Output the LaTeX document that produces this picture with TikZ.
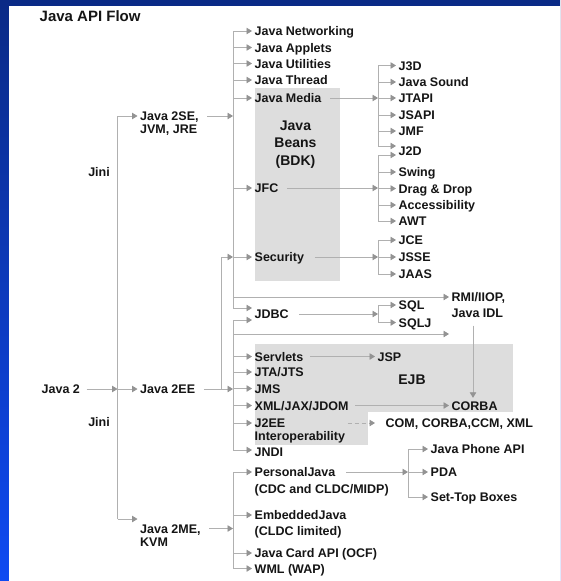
\documentclass[tikz,border=0pt]{standalone}
\usepackage{fontspec}
\setmainfont{Liberation Sans}
\usetikzlibrary{arrows.meta}
\definecolor{navy}{HTML}{0A2A86}
\definecolor{brightblue}{HTML}{0F4AF2}
\definecolor{linegray}{HTML}{B0B0B0}
\definecolor{tipgray}{HTML}{939393}
\definecolor{boxgray}{HTML}{DDDDDD}
\definecolor{ink}{HTML}{151515}
\begin{document}
\begin{tikzpicture}[x=1pt,y=-1pt,
  lbl/.style={anchor=west, inner xsep=2.5pt, inner ysep=0pt, text height=9pt, text depth=0pt,
    font=\bfseries\fontsize{12.5}{14}\selectfont, text=ink},
  big/.style={anchor=center, inner sep=0pt, text height=10pt, text depth=0pt,
    font=\bfseries\fontsize{14}{17}\selectfont, text=ink},
  conn/.style={draw=linegray, line width=0.8pt, -{Triangle[length=5.5pt,width=6.5pt,color=tipgray]}},
  plain/.style={draw=linegray, line width=0.8pt},
  gbox/.style={fill=boxgray, draw=none}]
\useasboundingbox (0,0) rectangle (560,581);
% background
\shade[top color=navy, bottom color=brightblue] (0,0) rectangle (560,581);
\fill[white] (9,6) rectangle (560,581);
% grey panels
\fill[gbox] (255,88) rectangle (340,281);
\fill[gbox] (255,344) rectangle (513,412);
\fill[gbox] (255,411) rectangle (368,445);

% title
\node[lbl, font=\bfseries\fontsize{15}{17}\selectfont, text height=10.7pt] (title) at (37,16) {Java API Flow};

% root level
\node[lbl] (j2) at (39,389) {Java 2};
\node[lbl, anchor=east] (jiniA) at (112.5,172) {Jini};
\node[lbl, anchor=east] (jiniB) at (112.5,422) {Jini};
\node[lbl] (j2se) at (137.5,116) {Java 2SE,};
\node[lbl] (j2seb) at (137.5,129) {JVM, JRE};
\node[lbl] (j2ee) at (137.5,389) {Java 2EE};
\node[lbl] (j2me) at (137.5,528.5) {Java 2ME,};
\node[lbl] (j2meb) at (137.5,542) {KVM};

\coordinate (trunkTop) at (117.5,116);
\coordinate (trunkMid) at (117.5,389);
\coordinate (trunkBot) at (117.5,519);
\draw[conn, shorten <=4pt] (j2.east) -- (trunkMid);
\draw[plain] (trunkTop) -- (trunkBot);
\draw[conn] (trunkTop) -- (j2se.west);
\draw[conn] (trunkMid) -- (j2ee.west);
\draw[conn] (trunkBot) -- (trunkBot -| j2me.west);

% J2SE column
\node[lbl] (net) at (252,31) {Java Networking};
\node[lbl] (app) at (252,47.5) {Java Applets};
\node[lbl] (util) at (252,63.5) {Java Utilities};
\node[lbl] (thr) at (252,80) {Java Thread};
\node[lbl] (media) at (252,98) {Java Media};
\node[lbl] (jfc) at (252,188) {JFC};
\node[lbl] (sec) at (252,257) {Security};
\node[lbl] (jdbc) at (252,314) {JDBC};
\node[lbl] (rmi) at (449,297) {RMI/IIOP,};
\node[lbl] (rmib) at (449,313) {Java IDL};

\coordinate (cA) at (233,116);
\coordinate (cAtop) at (233,31);
\coordinate (cAbot) at (233,308);
\draw[conn, shorten <=6pt] (j2se.east) -- (cA);
\draw[plain] (cAtop) -- (cAbot);
\foreach \n in {net,app,util,thr,media,jfc,sec,rmi}{
  \draw[conn] (cA |- \n.west) -- (\n.west);
}
\draw[conn] (cAbot) -- (cAbot -| jdbc.west);

% Java Beans
\node[big] (beansA) at (295.5,125) {Java};
\node[big] (beansB) at (295.5,142.5) {Beans};
\node[big] (beansC) at (295.5,160) {(BDK)};

% Media column
\node[lbl] (j3d) at (396,65.5) {J3D};
\node[lbl] (jsound) at (396,82) {Java Sound};
\node[lbl] (jtapi) at (396,98) {JTAPI};
\node[lbl] (jsapi) at (396,115) {JSAPI};
\node[lbl] (jmf) at (396,131) {JMF};
\node[lbl] (j2d) at (396,151) {J2D};
\coordinate (mTop) at (378,65.5);
\coordinate (mBot) at (378,146);
\draw[conn, shorten <=6pt] (media.east) -- (mTop |- media.east);
\draw[plain] (mTop) -- (mBot);
\foreach \n in {j3d,jsound,jtapi,jsapi,jmf}{
  \draw[conn] (mTop |- \n.west) -- (\n.west);
}
\draw[conn] (mBot) -- (mBot -| j2d.west);

% JFC column
\node[lbl] (swing) at (396,172) {Swing};
\node[lbl] (dnd) at (396,188.5) {Drag \& Drop};
\node[lbl] (acc) at (396,205) {Accessibility};
\node[lbl] (awt) at (396,221) {AWT};
\coordinate (fTop) at (378,155);
\coordinate (fBot) at (378,221);
\draw[conn, shorten <=6pt] (jfc.east) -- (fTop |- jfc.east);
\draw[plain] (fTop) -- (fBot);
\draw[conn] (fTop) -- (fTop -| j2d.west);
\foreach \n in {swing,dnd,acc,awt}{
  \draw[conn] (fTop |- \n.west) -- (\n.west);
}

% Security column
\node[lbl] (jce) at (396,240) {JCE};
\node[lbl] (jsse) at (396,257) {JSSE};
\node[lbl] (jaas) at (396,274) {JAAS};
\coordinate (sTop) at (378,240);
\coordinate (sBot) at (378,274);
\draw[conn, shorten <=8pt] (sec.east) -- (sTop |- sec.east);
\draw[plain] (sTop) -- (sBot);
\foreach \n in {jce,jsse,jaas}{
  \draw[conn] (sTop |- \n.west) -- (\n.west);
}

% JDBC column
\node[lbl] (sql) at (396,305) {SQL};
\node[lbl] (sqlj) at (396,322.5) {SQLJ};
\coordinate (dTop) at (378,305);
\coordinate (dBot) at (378,322.5);
\draw[conn, shorten <=8pt] (jdbc.east) -- (dTop |- jdbc.east);
\draw[plain] (dTop) -- (dBot);
\foreach \n in {sql,sqlj}{
  \draw[conn] (dTop |- \n.west) -- (\n.west);
}

% J2EE column
\node[lbl] (servlets) at (252,356.5) {Servlets};
\node[lbl] (jta) at (252,372) {JTA/JTS};
\node[lbl] (jms) at (252,388.5) {JMS};
\node[lbl] (xml) at (252,405.5) {XML/JAX/JDOM};
\node[lbl] (j2eei) at (252,423) {J2EE};
\node[lbl] (j2eeib) at (252,436) {Interoperability};
\node[lbl] (jndi) at (252,452) {JNDI};
\node[lbl] (jsp) at (375,356.5) {JSP};
\node[lbl] (corba) at (449,405.5) {CORBA};
\node[lbl] (com) at (383,423) {COM, CORBA,CCM, XML};
\node[big] (ejb) at (412,379) {EJB};

\coordinate (cB) at (233,389);
\coordinate (cBtop) at (233,320);
\coordinate (cBbot) at (233,450);
\coordinate (split) at (221,389);
\coordinate (rmiLow) at (449,334);
\coordinate (rmiDrop) at (473,325.5);
\draw[conn, shorten <=6pt] (j2ee.east) -- (cB);
\draw[conn] (split) |- (cA |- sec.west);
\draw[plain] (cBtop) -- (cBbot);
\draw[conn] (cBtop) -- (cBtop -| jdbc.west);
\draw[conn] (cB |- rmiLow) -- (rmiLow);
\foreach \n in {servlets,jta,jms,xml,j2eei}{
  \draw[conn] (cB |- \n.west) -- (\n.west);
}
\draw[conn] (cBbot) -- (cBbot -| jndi.west);
\draw[conn, shorten <=4pt] (servlets.east) -- (jsp.west);
\draw[conn, shorten <=4pt] (xml.east) -- (corba.west);
\draw[conn, shorten >=3pt] (rmiDrop) -- (rmiDrop |- corba.north);
\draw[conn, dash pattern=on 4pt off 3pt, shorten >=8pt] (j2eeib.east |- j2eei.west) -- (com.west);

% J2ME column
\node[lbl] (pj) at (252,472) {PersonalJava};
\node[lbl] (pjb) at (252,488.5) {(CDC and CLDC/MIDP)};
\node[lbl] (ej) at (252,515) {EmbeddedJava};
\node[lbl] (ejb2) at (252,530.5) {(CLDC limited)};
\node[lbl] (jc) at (252,553) {Java Card API (OCF)};
\node[lbl] (wml) at (252,568.5) {WML (WAP)};
\coordinate (cC) at (233,528.5);
\coordinate (cCtop) at (233,472);
\coordinate (cCbot) at (233,568.5);
\draw[conn, shorten <=6pt] (j2me.east) -- (cC);
\draw[plain] (cCtop) -- (cCbot);
\foreach \n in {pj,ej,jc,wml}{
  \draw[conn] (cC |- \n.west) -- (\n.west);
}

% PersonalJava column
\node[lbl] (phone) at (428,449) {Java Phone API};
\node[lbl] (pda) at (428,472) {PDA};
\node[lbl] (stb) at (428,497) {Set-Top Boxes};
\coordinate (pTop) at (408,449);
\coordinate (pBot) at (408,497);
\draw[conn, shorten <=8pt] (pj.east) -- (pTop |- pj.east);
\draw[plain] (pTop) -- (pBot);
\foreach \n in {phone,pda,stb}{
  \draw[conn] (pTop |- \n.west) -- (\n.west);
}
\end{tikzpicture}
\end{document}
